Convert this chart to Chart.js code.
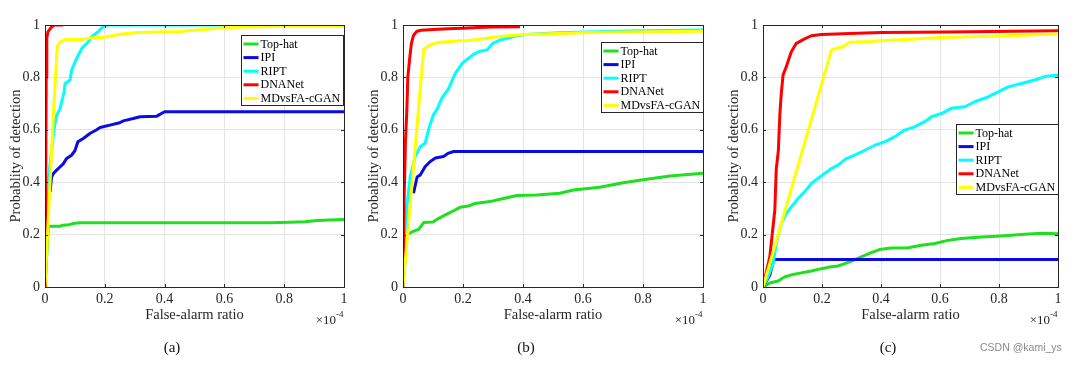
<!DOCTYPE html>
<html><head><meta charset="utf-8">
<script src="https://cdn.jsdelivr.net/npm/chart.js@4"></script>
<style>
html,body{margin:0;padding:0;background:#fff;}
body{width:1077px;height:366px;overflow:hidden;position:relative;}
canvas{position:absolute;top:0;}
.cap{position:absolute;top:339px;font:15px "Liberation Serif";color:#111;transform:translateX(-50%);white-space:nowrap;}
.wm{position:absolute;left:980px;top:341px;font:10.5px "Liberation Sans";color:#8a8a8a;white-space:nowrap;}
</style></head>
<body>
<canvas id="ca" width="360" height="366" style="left:0px"></canvas>
<canvas id="cb" width="360" height="366" style="left:358px"></canvas>
<canvas id="cc" width="360" height="366" style="left:718px"></canvas>
<div class="cap" style="left:172px">(a)</div>
<div class="cap" style="left:526px">(b)</div>
<div class="cap" style="left:888px">(c)</div>
<div class="wm">CSDN @kami_ys</div>
<script>
// ---- data (x in units of 1e-4) ----
const seriesNames = ['Top-hat', 'IPI', 'RIPT', 'DNANet', 'MDvsFA-cGAN'];
const tickValues = [0, 0.2, 0.4, 0.6, 0.8, 1];
const panelLabels = ['(a)', '(b)', '(c)'];

const aTopHat = [[0,0],[0.011,0.232],[0.05,0.232],[0.06,0.236],[0.08,0.238],[0.1,0.243],[0.12,0.245],[0.3,0.245],[0.5,0.245],[0.75,0.245],[0.82,0.247],[0.87,0.249],[0.9,0.253],[0.95,0.256],[1.0,0.258]];
const aIPI = [[0.017,0.363],[0.022,0.42],[0.028,0.433],[0.039,0.446],[0.05,0.458],[0.061,0.47],[0.072,0.49],[0.089,0.503],[0.1,0.52],[0.11,0.554],[0.128,0.567],[0.15,0.586],[0.173,0.6],[0.184,0.609],[0.217,0.618],[0.25,0.627],[0.262,0.634],[0.295,0.643],[0.318,0.65],[0.374,0.652],[0.4,0.669],[1.0,0.669]];
const aRIPT = [[0,0],[0.005,0.2],[0.012,0.42],[0.02,0.5],[0.03,0.6],[0.039,0.656],[0.05,0.68],[0.064,0.745],[0.067,0.777],[0.084,0.79],[0.089,0.828],[0.106,0.873],[0.123,0.911],[0.145,0.936],[0.156,0.955],[0.178,0.974],[0.19,0.99],[0.206,1.0],[1.0,1.0]];
const aDNANet = [[0,0],[0.002,0.3],[0.004,0.8],[0.006,0.95],[0.01,0.975],[0.02,0.99],[0.03,1.0],[0.061,1.0]];
const aMDvsFA = [[0,0],[0.028,0.656],[0.041,0.917],[0.05,0.935],[0.07,0.945],[0.12,0.945],[0.15,0.95],[0.2,0.953],[0.25,0.965],[0.3,0.97],[0.34,0.972],[0.45,0.975],[0.5,0.98],[0.55,0.985],[0.6,0.99],[0.8,0.995],[1.0,0.995]];

const bTopHat = [[0,0],[0.013,0.2],[0.03,0.21],[0.052,0.22],[0.069,0.246],[0.1,0.248],[0.119,0.262],[0.146,0.278],[0.169,0.291],[0.19,0.304],[0.218,0.309],[0.24,0.319],[0.29,0.326],[0.335,0.338],[0.38,0.349],[0.446,0.351],[0.523,0.358],[0.568,0.37],[0.656,0.381],[0.734,0.398],[0.8,0.409],[0.89,0.424],[1.0,0.434]];
const bIPI = [[0.035,0.358],[0.047,0.42],[0.058,0.428],[0.074,0.46],[0.091,0.479],[0.108,0.492],[0.135,0.498],[0.152,0.511],[0.169,0.517],[1.0,0.517]];
const bRIPT = [[0,0],[0.012,0.3],[0.024,0.42],[0.041,0.5],[0.058,0.536],[0.074,0.549],[0.085,0.6],[0.096,0.639],[0.102,0.659],[0.113,0.677],[0.13,0.722],[0.152,0.757],[0.174,0.815],[0.2,0.857],[0.235,0.888],[0.257,0.9],[0.28,0.905],[0.3,0.93],[0.324,0.943],[0.357,0.952],[0.38,0.959],[0.41,0.964],[0.52,0.97],[0.745,0.977],[1.0,0.981]];
const bDNANet = [[0,0],[0.004,0.35],[0.008,0.55],[0.013,0.68],[0.016,0.8],[0.022,0.87],[0.028,0.93],[0.035,0.96],[0.045,0.975],[0.06,0.98],[0.1,0.983],[0.15,0.986],[0.2,0.988],[0.25,0.99],[0.3,0.992],[0.39,0.993]];
const bMDvsFA = [[0,0],[0.069,0.907],[0.085,0.92],[0.1,0.928],[0.124,0.934],[0.19,0.94],[0.213,0.94],[0.246,0.945],[0.3,0.953],[0.357,0.96],[0.41,0.964],[0.52,0.968],[0.63,0.971],[0.745,0.973],[1.0,0.976]];

const cTopHat = [[0,0],[0.023,0.015],[0.051,0.023],[0.073,0.038],[0.102,0.048],[0.13,0.054],[0.164,0.061],[0.198,0.07],[0.226,0.076],[0.254,0.08],[0.277,0.089],[0.3,0.099],[0.333,0.115],[0.367,0.131],[0.395,0.143],[0.435,0.149],[0.492,0.15],[0.537,0.159],[0.582,0.166],[0.627,0.178],[0.672,0.185],[0.74,0.191],[0.808,0.195],[0.887,0.201],[0.944,0.205],[1.0,0.203]];
const cIPI = [[0,0],[0.023,0.045],[0.037,0.105],[1.0,0.105]];
const cRIPT = [[0,0],[0.017,0.038],[0.034,0.089],[0.045,0.166],[0.062,0.242],[0.079,0.28],[0.096,0.306],[0.119,0.338],[0.141,0.363],[0.164,0.395],[0.186,0.414],[0.209,0.433],[0.232,0.452],[0.254,0.465],[0.282,0.49],[0.311,0.503],[0.345,0.522],[0.379,0.541],[0.412,0.554],[0.446,0.573],[0.48,0.599],[0.514,0.611],[0.548,0.631],[0.571,0.65],[0.605,0.662],[0.638,0.682],[0.684,0.688],[0.718,0.707],[0.763,0.726],[0.797,0.745],[0.831,0.764],[0.876,0.777],[0.921,0.79],[0.955,0.803],[1.0,0.809]];
const cDNANet = [[0,0],[0.023,0.115],[0.04,0.293],[0.045,0.45],[0.052,0.52],[0.057,0.656],[0.062,0.739],[0.068,0.809],[0.079,0.841],[0.096,0.898],[0.113,0.93],[0.141,0.947],[0.164,0.959],[0.198,0.964],[0.294,0.968],[0.4,0.971],[0.627,0.973],[1.0,0.978]];
const cMDvsFA = [[0,0],[0.232,0.904],[0.249,0.911],[0.271,0.917],[0.294,0.934],[0.36,0.937],[0.4,0.94],[0.5,0.946],[0.6,0.952],[0.8,0.958],[1.0,0.966]];

// ---- styles ----
const seriesColors = ['#1fe01f', '#0a0ae6', '#00ffff', '#ff0000', '#ffff00'];
const FONT = 'Liberation Serif';
const AXIS = '#262626';

const frame = {
  id: 'frame',
  afterDatasetsDraw(chart, args, o) {
    const {ctx, chartArea: a, scales} = chart;
    ctx.save();
    ctx.strokeStyle = AXIS; ctx.lineWidth = 1;
    ctx.beginPath();
    tickValues.forEach(v => {
      const px = Math.round(scales.x.getPixelForValue(v)) + 0.5;
      ctx.moveTo(px, a.bottom); ctx.lineTo(px, a.bottom - 3);
      ctx.moveTo(px, a.top); ctx.lineTo(px, a.top + 3);
      const py = Math.round(scales.y.getPixelForValue(v)) + 0.5;
      ctx.moveTo(a.left, py); ctx.lineTo(a.left + 3, py);
      ctx.moveTo(a.right, py); ctx.lineTo(a.right - 3, py);
    });
    ctx.stroke();
    ctx.strokeRect(Math.round(a.left) + 0.5, Math.round(a.top) + 0.5, Math.round(a.right - a.left), Math.round(a.bottom - a.top));
    const w = 102, h = 70;
    const bx = Math.round(a.right - o.right - w) + 0.5, by = Math.round(a.top + o.top) + 0.5;
    ctx.fillStyle = '#fff'; ctx.fillRect(bx, by, w, h);
    ctx.strokeStyle = AXIS; ctx.strokeRect(bx, by, w, h);
    ctx.font = '12px "' + FONT + '"';
    ctx.textBaseline = 'middle'; ctx.textAlign = 'left';
    chart.data.datasets.forEach((ds, i) => {
      const y = by + 8.5 + i * 13.6;
      ctx.strokeStyle = ds.borderColor; ctx.lineWidth = 3;
      ctx.beginPath(); ctx.moveTo(bx + 2, y); ctx.lineTo(bx + 17, y); ctx.stroke();
      ctx.fillStyle = '#000'; ctx.fillText(ds.label, bx + 19, y + 0.5);
    });
    ctx.fillStyle = AXIS;
    ctx.font = '13px "' + FONT + '"';
    ctx.textAlign = 'right';
    ctx.fillText('\u00d710', a.right - 8, a.bottom + 34);
    ctx.font = '9px "' + FONT + '"';
    ctx.textAlign = 'left';
    ctx.fillText('-4', a.right - 8, a.bottom + 28);
    ctx.restore();
  }
};

function makeChart(id, sets, rightPad, legendPos) {
  const datasets = sets.map((d, i) => ({
    label: seriesNames[i],
    data: d.map(p => ({x: p[0], y: p[1]})),
    borderColor: seriesColors[i],
    backgroundColor: seriesColors[i],
    borderWidth: 3,
    pointRadius: 0,
    tension: 0,
    fill: false,
    order: sets.length - i,
    borderJoinStyle: 'round',
    borderCapStyle: 'butt'
  }));
  const fmt = v => String(Math.round(v * 10) / 10);
  return new Chart(document.getElementById(id), {
    type: 'line',
    data: {datasets},
    plugins: [frame],
    options: {
      responsive: false, animation: false, devicePixelRatio: 1,
      layout: {padding: {left: 0, right: rightPad, top: 25, bottom: 0}},
      plugins: {legend: {display: false}, tooltip: {enabled: false}, frame: legendPos},
      scales: {
        x: {
          type: 'linear', min: 0, max: 1,
          afterBuildTicks: s => { s.ticks = tickValues.map(v => ({value: v})); },
          afterFit: s => { s.height = 79; },
          grid: {color: '#e4e4e4', drawTicks: false, lineWidth: 1},
          border: {display: false},
          ticks: {padding: 4, color: AXIS, font: {family: FONT, size: 14}, callback: fmt, maxRotation: 0},
          title: {display: true, text: 'False-alarm ratio', color: AXIS, font: {family: FONT, size: 14.5}, padding: {top: 0, bottom: 42.3}}
        },
        y: {
          type: 'linear', min: 0, max: 1,
          afterBuildTicks: s => { s.ticks = tickValues.map(v => ({value: v})); },
          afterFit: s => { s.width = 45; },
          grid: {color: '#e4e4e4', drawTicks: false, lineWidth: 1},
          border: {display: false},
          ticks: {padding: 5, color: AXIS, font: {family: FONT, size: 14}, callback: fmt},
          title: {display: true, text: 'Probablity of detection', color: AXIS, font: {family: FONT, size: 14.5}, padding: {top: 7.3, bottom: 0}}
        }
      }
    }
  });
}

makeChart('ca', [aTopHat, aIPI, aRIPT, aDNANet, aMDvsFA], 16, {right: 1, top: 10});
makeChart('cb', [bTopHat, bIPI, bRIPT, bDNANet, bMDvsFA], 15, {right: 0, top: 17});
makeChart('cc', [cTopHat, cIPI, cRIPT, cDNANet, cMDvsFA], 20, {right: 0, top: 99});
</script>
</body></html>
